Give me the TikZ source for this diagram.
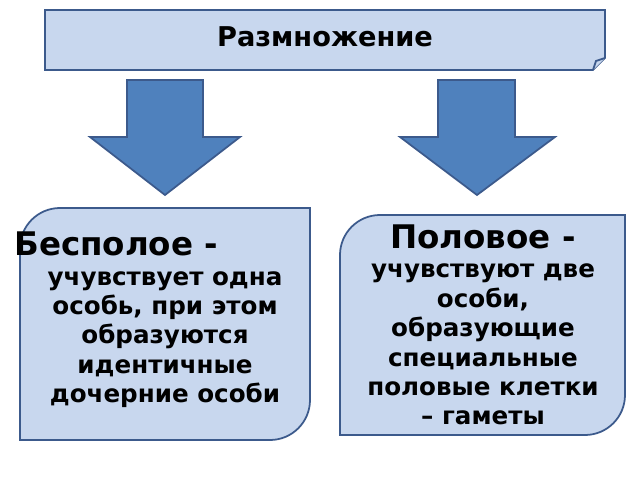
\documentclass[tikz,border=0pt]{standalone}
\usepackage{fontspec}
\setmainfont{DejaVu Sans}
\usetikzlibrary{positioning}
\definecolor{boxfill}{RGB}{200,215,238}
\definecolor{boxline}{RGB}{60,90,140}
\definecolor{arrowfill}{RGB}{79,129,189}
\begin{document}
\begin{tikzpicture}[x=0.02cm, y=-0.02cm,
        panel/.style={fill=boxfill, draw=boxline, line width=1pt},
        bigarrow/.style={fill=arrowfill, draw=boxline, line width=1pt},
        txt/.style={align=center, font=\bfseries\fontsize{14}{16.7}\selectfont}
    ]
    \useasboundingbox (0,0) rectangle (640,480);

    % title banner with folded corner
    \draw[panel] (45,10) -- (605,10) -- (605,58) -- (593,70) -- (45,70) -- cycle;
    \draw[panel] (593,70) -- (596,61) -- (605,58);
    \node[font=\bfseries\fontsize{15.5}{18}\selectfont] (title) at (325,37) {Размножение};

    % arrows
    \draw[bigarrow] (127,80) -- (203,80) -- (203,137) -- (240,137) -- (165,195)
        -- (90,137) -- (127,137) -- cycle;
    \draw[bigarrow] (438,80) -- (515,80) -- (515,137) -- (555,137) -- (477,195)
        -- (400,137) -- (438,137) -- cycle;

    % left box
    \draw[panel] (60,208) -- (310,208) -- (310,400) arc (0:90:40) -- (20,440)
        -- (20,248) arc (180:270:40) -- cycle;
    \node[txt] (asex) at (165,320) {{\fontsize{18.5}{20}\selectfont Бесполое -\hspace*{3em}}\\
        учувствует одна\\особь, при этом\\образуются\\идентичные\\дочерние особи};

    % right box
    \draw[panel] (380,215) -- (625,215) -- (625,395) arc (0:90:40) -- (340,435)
        -- (340,255) arc (180:270:40) -- cycle;
    \node[txt] (sex) at (483,325) {{\fontsize{18.5}{20}\selectfont Половое -}\\
        учувствуют две\\особи,\\образующие\\специальные\\половые клетки\\– гаметы};
\end{tikzpicture}
\end{document}
